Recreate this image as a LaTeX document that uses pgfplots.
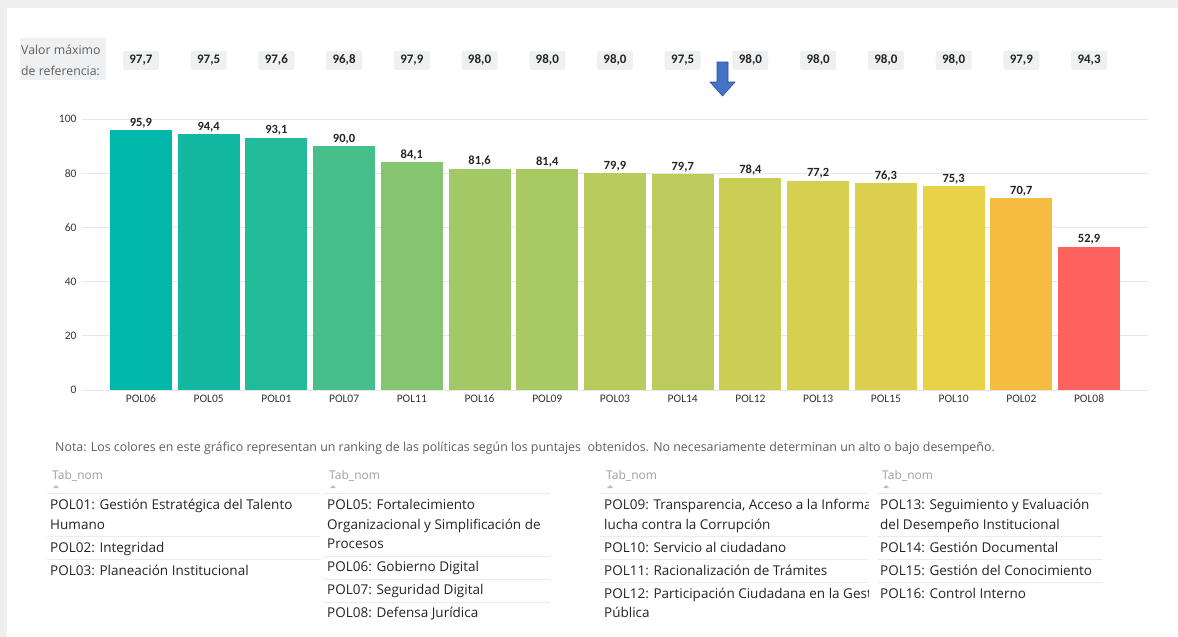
\documentclass[border=0pt]{standalone}
\usepackage{pgfplots}
\pgfplotsset{compat=1.18}
\usepackage{pgfplotstable}
\usepackage{fontspec}
\setmainfont{Open Sans}
\newfontfamily\numfont{Carlito}

\definecolor{framegray}{HTML}{EFEFEF}
\definecolor{gridgray}{HTML}{E6E6E6}
\definecolor{boxgray}{HTML}{EEF0F2}
\definecolor{labeltext}{HTML}{252423}
\definecolor{ticktext}{HTML}{333333}
\definecolor{notegray}{HTML}{605E5C}
\definecolor{headgray}{HTML}{A19F9D}
\definecolor{sepgray}{HTML}{EDEBE9}
\definecolor{arrowblue}{HTML}{4472C4}
\definecolor{arrowedge}{HTML}{2F528F}

\definecolor{b0}{HTML}{01B8AA}
\definecolor{b1}{HTML}{12B9A0}
\definecolor{b2}{HTML}{21BB99}
\definecolor{b3}{HTML}{46BF8A}
\definecolor{b4}{HTML}{86C56F}
\definecolor{b5}{HTML}{A2C965}
\definecolor{b6}{HTML}{A9CA62}
\definecolor{b7}{HTML}{BACB5D}
\definecolor{b8}{HTML}{BCCB5C}
\definecolor{b9}{HTML}{CACE55}
\definecolor{b10}{HTML}{D7CF50}
\definecolor{b11}{HTML}{DCD04D}
\definecolor{b12}{HTML}{E8D245}
\definecolor{b13}{HTML}{F5BC41}
\definecolor{b14}{HTML}{FD625E}

% reference maximum values per policy (in plotted order)
\pgfplotstableread{
x max
0 97.7
1 97.5
2 97.6
3 96.8
4 97.9
5 98.0
6 98.0
7 98.0
8 97.5
9 98.0
10 98.0
11 98.0
12 98.0
13 97.9
14 94.3
}\maxtable

\newcommand{\legfont}{\fontsize{13.5}{15}\selectfont}
\newcommand{\row}[3]{\node[anchor=base west, inner sep=0pt, font=\legfont, text=labeltext] at (#1pt,-#2pt) {#3};}
\newcommand{\sep}[3]{\draw[sepgray, line width=0.8pt] (#1pt,-#3pt) -- (#2pt,-#3pt);}
\newcommand{\tabhead}[1]{%
  \node[anchor=base west, inner sep=0pt, font=\fontsize{12}{13}\selectfont, text=headgray] at (#1pt,-479pt) {Tab\_nom};
  \fill[headgray!70] (#1pt+1pt,-488pt) -- (#1pt+7pt,-488pt) -- (#1pt+4pt,-485pt) -- cycle;}

\pgfplotsset{
  polbar/.style={ybar, bar width=0.915, bar shift=0pt, fill=#1, draw=none,
    nodes near coords={\pgfmathprintnumber[fixed,fixed zerofill,precision=1,use comma,assume math mode=true]{\pgfplotspointmeta}},
    every node near coord/.append style={font=\numfont\bfseries\fontsize{12.5}{13}\selectfont, text=labeltext, inner sep=2pt}},
}

\begin{document}
\begin{tikzpicture}
\useasboundingbox[fill=white] (0pt,0pt) rectangle (1178pt,-637pt);
\fill[framegray] (0pt,0pt) rectangle (1178pt,-8pt);
\fill[framegray] (0pt,0pt) rectangle (7pt,-637pt);

% label box
\fill[boxgray] (20pt,-38pt) rectangle (106pt,-80pt);
\node[anchor=base west, inner sep=0pt, font=\fontsize{12.3}{13}\selectfont, text=notegray] at (21pt,-54pt) {Valor máximo};
\node[anchor=base west, inner sep=0pt, font=\fontsize{12.3}{13}\selectfont, text=notegray] at (21pt,-75pt) {de referencia:};

\begin{axis}[
  at={(82pt,-390pt)}, anchor=south west,
  scale only axis, width=1066pt, height=271pt,
  xmin=-0.87, xmax=14.87, ymin=0, ymax=100,
  axis line style={draw=none}, major tick length=0pt,
  ytick={0,20,...,100}, ymajorgrids,
  grid style={gridgray, line width=0.8pt},
  xtick={0,...,14},
  xticklabels={POL06,POL05,POL01,POL07,POL11,POL16,POL09,POL03,POL14,POL12,POL13,POL15,POL10,POL02,POL08},
  ticklabel style={font=\numfont\fontsize{11.5}{12}\selectfont, text=ticktext},
  xticklabel style={yshift=-1pt},
  yticklabel style={xshift=-2pt},
  /pgf/number format/assume math mode=true,
  clip=false,
]
\addplot[polbar=b0]  coordinates {(0,95.9)};
\addplot[polbar=b1]  coordinates {(1,94.4)};
\addplot[polbar=b2]  coordinates {(2,93.1)};
\addplot[polbar=b3]  coordinates {(3,90.0)};
\addplot[polbar=b4]  coordinates {(4,84.1)};
\addplot[polbar=b5]  coordinates {(5,81.6)};
\addplot[polbar=b6]  coordinates {(6,81.4)};
\addplot[polbar=b7]  coordinates {(7,79.9)};
\addplot[polbar=b8]  coordinates {(8,79.7)};
\addplot[polbar=b9]  coordinates {(9,78.4)};
\addplot[polbar=b10] coordinates {(10,77.2)};
\addplot[polbar=b11] coordinates {(11,76.3)};
\addplot[polbar=b12] coordinates {(12,75.3)};
\addplot[polbar=b13] coordinates {(13,70.7)};
\addplot[polbar=b14] coordinates {(14,52.9)};
% reference maximum row
\addplot[draw=none, mark=none, point meta=\thisrow{max},
  nodes near coords={\pgfmathprintnumber[fixed,fixed zerofill,precision=1,use comma,assume math mode=true]{\pgfplotspointmeta}},
  every node near coord/.append style={anchor=south, fill=boxgray, rounded corners=2pt, minimum width=36pt, minimum height=19pt, inner sep=0pt,
    font=\numfont\bfseries\fontsize{13}{14}\selectfont, text=labeltext}]
  table[x=x, y expr=118.1] {\maxtable};
\end{axis}

% arrow
\filldraw[fill=arrowblue, draw=arrowedge, line width=0.6pt]
  (717pt,-62pt) -- (728pt,-62pt) -- (728pt,-82pt) -- (735pt,-82pt) -- (722.5pt,-96pt)
  -- (710pt,-82pt) -- (717pt,-82pt) -- cycle;

% note
\node[anchor=base west, inner sep=0pt, font=\fontsize{12.4}{14}\selectfont, text=notegray] at (55pt,-451pt)
  {Nota: Los colores en este gráfico representan un ranking de las políticas según los puntajes \ obtenidos. No necesariamente determinan un alto o bajo desempeño.};

% tables
\tabhead{52}\tabhead{329}\tabhead{606}\tabhead{882}

% column 1
\sep{47}{320}{493}
\row{50}{509}{POL01: Gestión Estratégica del Talento}
\row{50}{529}{Humano}
\sep{47}{320}{536}
\row{50}{552}{POL02: Integridad}
\sep{47}{320}{559}
\row{50}{575}{POL03: Planeación Institucional}

% column 2
\sep{323}{550}{493}
\row{327}{509}{POL05: Fortalecimiento}
\row{327}{529}{Organizacional y Simplificación de}
\row{327}{548}{Procesos}
\sep{323}{550}{556}
\row{327}{571}{POL06: Gobierno Digital}
\sep{323}{550}{579}
\row{327}{594}{POL07: Seguridad Digital}
\sep{323}{550}{602}
\row{327}{617}{POL08: Defensa Jurídica}

% column 3 (clipped at the column edge)
\begin{scope}
\clip (600pt,-488pt) rectangle (868pt,-630pt);
\sep{600}{868}{493}
\row{604}{509}{POL09: Transparencia, Acceso a la Informa}
\row{604}{529}{lucha contra la Corrupción}
\sep{600}{868}{536}
\row{604}{552}{POL10: Servicio al ciudadano}
\sep{600}{868}{559}
\row{604}{575}{POL11: Racionalización de Trámites}
\sep{600}{868}{582}
\row{604}{598}{POL12: Participación Ciudadana en la Gest}
\row{604}{617}{Pública}
\end{scope}

% column 4
\sep{877}{1102}{493}
\row{880}{509}{POL13: Seguimiento y Evaluación}
\row{880}{529}{del Desempeño Institucional}
\sep{877}{1102}{536}
\row{880}{552}{POL14: Gestión Documental}
\sep{877}{1102}{559}
\row{880}{575}{POL15: Gestión del Conocimiento}
\sep{877}{1102}{582}
\row{880}{598}{POL16: Control Interno}
\end{tikzpicture}
\end{document}
